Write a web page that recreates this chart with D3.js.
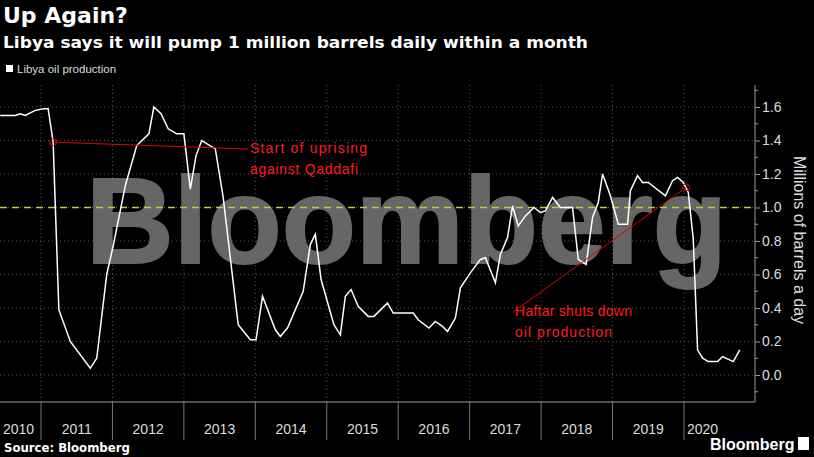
<!DOCTYPE html>
<html><head><meta charset="utf-8">
<script src="https://cdn.jsdelivr.net/npm/d3@7"></script>
<style>body{margin:0;background:#000}svg{display:block}</style></head>
<body><svg id="c" width="814" height="457"></svg>
<script>
const years=[2010.43,2010.64,2010.71,2010.78,2010.92,2011.04,2011.10,2011.17,2011.25,2011.41,2011.69,2011.78,2011.92,2012.01,2012.18,2012.34,2012.51,2012.58,2012.68,2012.78,2012.90,2013.00,2013.09,2013.17,2013.25,2013.44,2013.55,2013.76,2013.93,2014.01,2014.10,2014.28,2014.35,2014.45,2014.67,2014.77,2014.84,2014.92,2015.10,2015.19,2015.26,2015.34,2015.44,2015.58,2015.66,2015.85,2015.93,2016.21,2016.28,2016.43,2016.52,2016.62,2016.69,2016.80,2016.87,2017.01,2017.15,2017.22,2017.36,2017.43,2017.53,2017.60,2017.68,2017.78,2017.90,2017.99,2018.06,2018.16,2018.27,2018.44,2018.52,2018.63,2018.72,2018.80,2018.86,2018.97,2019.08,2019.21,2019.25,2019.35,2019.42,2019.50,2019.74,2019.84,2019.91,2019.99,2020.06,2020.13,2020.19,2020.26,2020.34,2020.47,2020.54,2020.69,2020.78];
const production=[1.55,1.55,1.56,1.55,1.58,1.59,1.59,1.39,0.39,0.2,0.04,0.10,0.6,0.77,1.13,1.37,1.44,1.6,1.56,1.47,1.44,1.44,1.11,1.31,1.40,1.35,1.06,0.30,0.21,0.21,0.47,0.27,0.23,0.28,0.50,0.78,0.84,0.57,0.30,0.24,0.47,0.51,0.41,0.35,0.35,0.43,0.37,0.37,0.33,0.28,0.32,0.29,0.26,0.34,0.52,0.61,0.69,0.70,0.55,0.72,0.82,1.01,0.89,0.95,1.0,0.97,0.98,1.06,1.0,1.0,0.69,0.66,0.94,1.03,1.2,1.07,0.9,0.9,1.1,1.19,1.15,1.15,1.07,1.16,1.18,1.15,1.09,0.81,0.15,0.10,0.08,0.08,0.11,0.08,0.15];
const yTicks=[0,0.2,0.4,0.6,0.8,1.0,1.2,1.4,1.6];
const yearLabels=[2010,2011,2012,2013,2014,2015,2016,2017,2018,2019,2020];
const annotations=[{t:2011.17,v:1.39,lines:["Start of uprising","against Qaddafi"],tx:250,ty:153},{t:2020.03,v:1.12,lines:["Haftar shuts down","oil production"],tx:515,ty:316}];

const svg=d3.select("#c");
const x=d3.scaleLinear().domain([2011,2020]).range([41,684]);
const y=d3.scaleLinear().domain([0,1.6]).range([375,107]);
const F="'Liberation Sans Narrow','Liberation Sans',Arial,sans-serif";
svg.append("rect").attr("width",814).attr("height",457).attr("fill","#000");
svg.append("g").selectAll("line").data(yTicks).join("line").attr("x1",0).attr("x2",755)
 .attr("y1",d=>y(d)).attr("y2",d=>y(d)).attr("stroke","#555").attr("stroke-dasharray","1,3");
svg.append("g").selectAll("line").data(d3.range(2011,2021)).join("line").attr("y1",85).attr("y2",402)
 .attr("x1",d=>x(d)).attr("x2",d=>x(d)).attr("stroke","#555").attr("stroke-dasharray","1,3");
svg.append("text").attr("x",86).attr("y",263).attr("font-family","'Liberation Sans',Arial").attr("font-weight","bold")
 .attr("font-size",123).attr("fill","#666").attr("stroke","#666").attr("stroke-width",2).attr("textLength",641).attr("lengthAdjust","spacingAndGlyphs").text("Bloomberg");
svg.append("line").attr("x1",0).attr("x2",755).attr("y1",y(1)).attr("y2",y(1)).attr("stroke","#b5d334").attr("stroke-width",1.5).attr("stroke-dasharray","7,5");
svg.append("line").attr("x1",0).attr("x2",755).attr("y1",402).attr("y2",402).attr("stroke","#999");
svg.append("line").attr("x1",755).attr("x2",755).attr("y1",85).attr("y2",402).attr("stroke","#999");
const ya=svg.append("g").attr("transform","translate(755,0)").call(d3.axisRight(y).tickValues(yTicks).tickFormat(d3.format(".1f")).tickSize(5));
ya.select(".domain").remove();
ya.selectAll("line").attr("stroke","#999");
ya.selectAll("text").attr("fill","#ddd").attr("font-size",14).attr("font-family",F).attr("x",7);
svg.append("g").selectAll("line").data(d3.range(-0.1,1.75,0.2)).join("line").attr("x1",755).attr("x2",758)
 .attr("y1",d=>y(d)).attr("y2",d=>y(d)).attr("stroke","#999");
svg.append("text").attr("transform","translate(794,240) rotate(90)").attr("text-anchor","middle").attr("fill","#ddd")
 .attr("font-size",16).attr("font-family",F).text("Millions of barrels a day");
svg.append("g").selectAll("line").data(d3.range(2011,2021)).join("line").attr("y1",402).attr("y2",440)
 .attr("x1",d=>x(d)).attr("x2",d=>x(d)).attr("stroke","#777");
svg.append("g").selectAll("text").data(yearLabels).join("text")
 .attr("x",d=>d===2010?3:d===2020?x(2020)+3:x(d+0.5)).attr("text-anchor",d=>d===2010||d===2020?"start":"middle")
 .attr("y",434).attr("fill","#ddd").attr("font-size",14).attr("font-family",F).text(d=>d);
svg.append("path").datum(years.map((t,i)=>[t,production[i]])).attr("fill","none").attr("stroke","#fff").attr("stroke-width",1.5)
 .attr("d",d3.line().x(d=>x(d[0])).y(d=>y(d[1])));
annotations.forEach(a=>{
 const cx=x(a.t),cy=y(a.v);
 svg.append("circle").attr("cx",cx).attr("cy",cy).attr("r",3.5).attr("fill","none").attr("stroke","#e00000");
 svg.append("line").attr("x1",cx).attr("y1",cy).attr("x2",a.tx-2).attr("y2",a.ty-4).attr("stroke","#e00000");
 a.lines.forEach((l,i)=>svg.append("text").attr("x",a.tx).attr("y",a.ty+i*21).attr("fill","#ff1a1a").attr("font-size",14).attr("textLength",i===0?117:(a.tx===250?108:97)).attr("font-family",F).text(l));
});
svg.append("text").attr("x",3).attr("y",23).attr("fill","#fff").attr("font-weight","bold").attr("font-size",22).attr("font-family","'DejaVu Sans',sans-serif").text("Up Again?");
svg.append("text").attr("x",3).attr("y",48).attr("fill","#fff").attr("font-weight","bold").attr("font-size",16).attr("font-family","'DejaVu Sans',sans-serif").attr("textLength",585).attr("lengthAdjust","spacingAndGlyphs").text("Libya says it will pump 1 million barrels daily within a month");
svg.append("rect").attr("x",6).attr("y",65).attr("width",7).attr("height",7).attr("fill","#fff");
svg.append("text").attr("x",17).attr("y",73).attr("fill","#ddd").attr("font-size",11.5).attr("font-family","'Liberation Sans',Arial").text("Libya oil production");
svg.append("text").attr("x",4).attr("y",452).attr("fill","#fff").attr("font-weight","bold").attr("font-size",13).attr("font-family","'DejaVu Sans Condensed','DejaVu Sans',sans-serif").text("Source: Bloomberg");
svg.append("text").attr("x",710).attr("y",450).attr("fill","#fff").attr("font-weight","bold").attr("font-size",16).attr("font-family",F).text("Bloomberg");
svg.append("rect").attr("x",798).attr("y",437).attr("width",11).attr("height",13).attr("fill","#fff");
</script></body></html>
